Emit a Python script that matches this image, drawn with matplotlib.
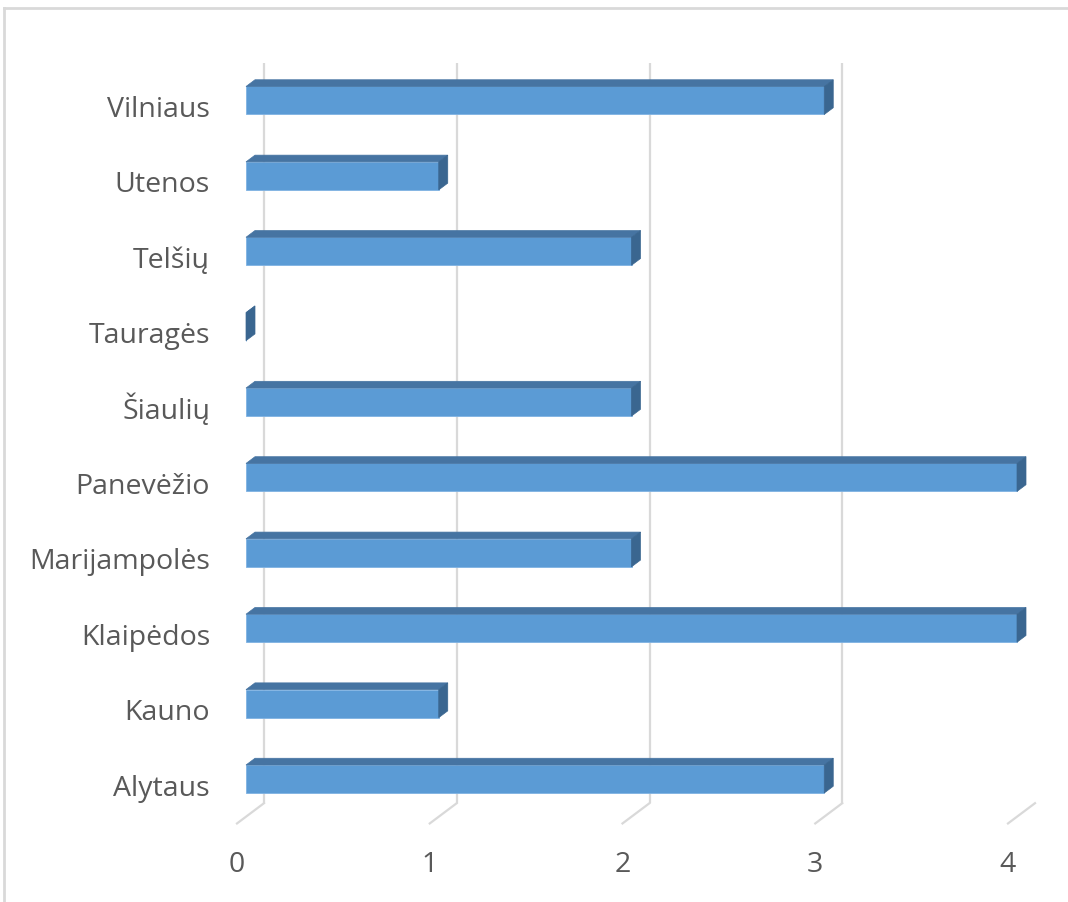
import matplotlib.pyplot as plt
from matplotlib.lines import Line2D
from matplotlib.patches import Polygon, Rectangle
from matplotlib.transforms import ScaledTranslation

regions = ['Alytaus', 'Kauno', 'Klaipėdos', 'Marijampolės', 'Panevėžio',
           'Šiaulių', 'Tauragės', 'Telšių', 'Utenos', 'Vilniaus']
counts = [3, 1, 4, 2, 4, 2, 0, 2, 1, 3]
ticks = [0, 1, 2, 3, 4]

W, H, DPI = 1068, 903, 100
FRONT = '#5b9bd5'
TOP = '#4674a2'
SIDE = '#3a6690'
GRID = '#d9d9d9'
TEXT = '#595959'

plt.rcParams['font.family'] = ['Open Sans', 'DejaVu Sans']

fig = plt.figure(figsize=(W / DPI, H / DPI), dpi=DPI)

# front plane of the bars in pixels
left, right = 246, 1017
top, bottom = 63.8, 817.7
ax = fig.add_axes([left / W, 1 - bottom / H, (right - left) / W, (bottom - top) / H])
ax.set_xlim(0, 4)
ax.set_ylim(-0.5, 9.5)
ax.axis('off')

ux = (right - left) / 4      # px per value
uy = (bottom - top) / 10     # px per category


def shift(dx, dy):
    return ax.transData + ScaledTranslation(dx / DPI, dy / DPI, fig.dpi_scale_trans)


# back wall gridlines and floor lines
ax.vlines(ticks, -0.5, 9.5, colors=GRID, lw=1.6, transform=shift(18, 13.5), zorder=1)
for v in ticks:
    ax.plot([v + 18 / ux, v - 9 / ux], [-0.5 + 13.5 / uy, -0.5 - 6.75 / uy],
            color=GRID, lw=1.6, zorder=1, clip_on=False)

# 3d bars
hh = 14 / uy
bx, by = 9 / ux, 6.75 / uy
for i, v in enumerate(counts):
    y0, y1 = i - hh, i + hh
    ax.add_patch(Rectangle((0, y0), v, y1 - y0, facecolor=FRONT, edgecolor='#7fb2e2',
                           lw=0.6, zorder=3, clip_on=False))
    ax.add_patch(Polygon([(0, y1), (v, y1), (v + bx, y1 + by), (bx, y1 + by)],
                         closed=True, facecolor=TOP, edgecolor=TOP, lw=0.5, zorder=3, clip_on=False))
    ax.add_patch(Polygon([(v, y0), (v, y1), (v + bx, y1 + by), (v + bx, y0 + by)],
                         closed=True, facecolor=SIDE, edgecolor=SIDE, lw=0.5, zorder=3, clip_on=False))
    ax.text(0, i, regions[i], transform=shift(-36, -15.5), ha='right', va='baseline',
            fontsize=20.5, color=TEXT)

for v in ticks:
    ax.text(v, -0.5, str(v), transform=shift(-9, -54.3), ha='center', va='baseline',
            fontsize=20.5, color=TEXT)

# chart border
fig.add_artist(Line2D([4 / W, 4 / W], [0, 1 - 9 / H], transform=fig.transFigure, color=GRID, lw=2))
fig.add_artist(Line2D([4 / W, 1], [1 - 9 / H, 1 - 9 / H], transform=fig.transFigure, color=GRID, lw=2))

fig.savefig('out.png', dpi=DPI)
